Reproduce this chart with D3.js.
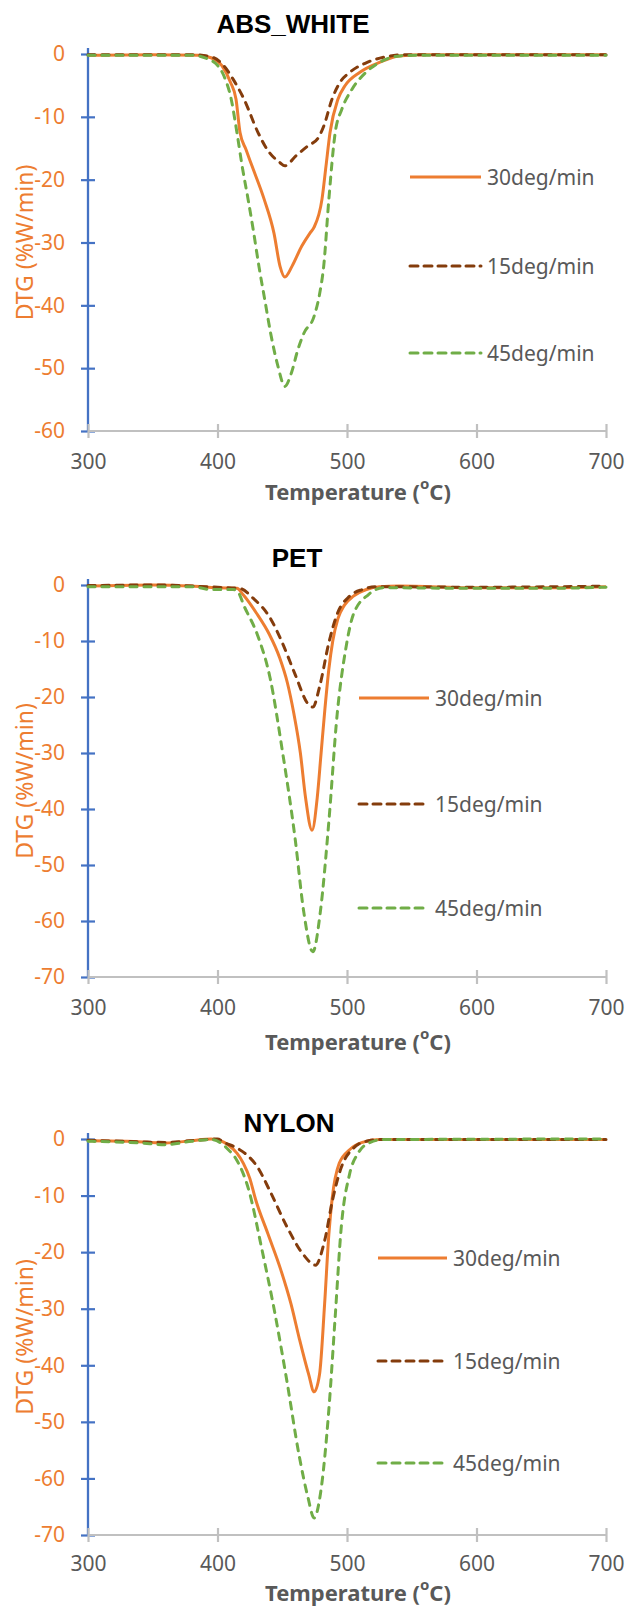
<!DOCTYPE html>
<html><head><meta charset="utf-8">
<script src="https://cdnjs.cloudflare.com/ajax/libs/d3/7.8.5/d3.min.js"></script>
<style>
html,body{margin:0;padding:0;background:#fff;}
svg{display:block;}
</style></head>
<body>
<svg id="c" width="627" height="1609"></svg>
<script>
// ---------- data ----------
const titles = ["ABS_WHITE", "PET", "NYLON"];
const seriesNames = ["30deg/min", "15deg/min", "45deg/min"];
const xTicks = [300, 400, 500, 600, 700];
const yTicksABS = [0, -10, -20, -30, -40, -50, -60];
const yTicksPET = [0, -10, -20, -30, -40, -50, -60, -70];
const yTicksNYLON = [0, -10, -20, -30, -40, -50, -60, -70];

// ABS_WHITE  [temperature °C, DTG %W/min]
const abs30 = [[300,-0.2],[350,-0.1],[385,-0.2],[395,-0.6],[403.5,-1.9],[410,-4.5],[414.3,-7.2],[417.4,-12.5],[422,-15.2],[426.6,-17.8],[436,-23.1],[443.6,-28.5],[448.3,-33.8],[452,-35.5],[457.5,-33.8],[465,-30.6],[471.4,-28.5],[474.5,-27.6],[480.7,-23.1],[483.8,-17.8],[486.9,-12.5],[493,-7.2],[498.3,-5.1],[510,-2.9],[525.5,-1.3],[540,-0.3],[560,-0.1],[700,-0.1]];
const abs15 = [[300,-0.1],[380,-0.1],[395.7,-0.5],[405,-1.9],[412,-4],[420.5,-7.2],[431.3,-12.5],[438.4,-15.2],[448.3,-17.3],[452,-17.8],[460.6,-16.2],[470,-14.6],[477.6,-13.4],[482.2,-11.4],[488.4,-7.2],[494.6,-4.5],[502.3,-2.9],[516,-1.3],[528.6,-0.5],[545,-0.1],[700,-0.1]];
const abs45 = [[300,-0.2],[380,-0.2],[392.7,-0.8],[400,-1.8],[405,-3.5],[410.6,-7.2],[415,-12.5],[419,-17.8],[423.6,-23.1],[428,-28.5],[432,-33.8],[436.5,-39.1],[441,-44.4],[446.7,-49.7],[452,-52.9],[457,-50.8],[462,-47.1],[466.8,-44.4],[474.5,-41.8],[479,-38],[482,-33.8],[486,-23.1],[490.9,-12.5],[496,-8.8],[503.9,-5.6],[514.7,-2.9],[525.5,-1.3],[541,-0.3],[560,-0.2],[700,-0.2]];

// PET
const pet30 = [[300,-0.2],[350,0],[380,-0.2],[400,-0.5],[415,-0.6],[420,-1.8],[430,-5],[440,-8.8],[448,-13],[454,-17.5],[459,-23],[464,-30],[468,-38],[473,-43.8],[477,-38],[480,-30],[483,-22],[486,-15],[489,-10],[493,-6],[498,-3.6],[505,-2],[515,-0.8],[525,-0.3],[540,-0.2],[600,-0.5],[650,-0.5],[700,-0.3]];
const pet15 = [[300,-0.1],[350,0],[400,-0.4],[417,-0.6],[427.7,-2.4],[440.7,-5.9],[450,-10.3],[460,-16],[469.8,-21.2],[473.6,-21.8],[479,-18],[486,-10.3],[492.4,-5.2],[502,-2],[512,-0.8],[521.5,-0.3],[600,-0.4],[700,-0.2]];
const pet45 = [[300,-0.3],[380,-0.3],[395,-0.8],[412,-0.8],[415,-1],[421,-4],[431,-9],[440.7,-16.7],[450,-29.5],[460,-45.4],[466.5,-58.2],[473.6,-65.5],[479.5,-58.2],[486,-42.2],[492.4,-23.1],[498.9,-11.6],[505,-5.2],[516.6,-1.7],[528,-0.5],[600,-0.6],[650,-0.6],[700,-0.4]];

// NYLON
const nylon30 = [[300,-0.3],[330,-0.4],[360,-0.7],[380,-0.3],[395,0],[402,-0.3],[408,-1],[415,-2.5],[420,-4.3],[425,-7],[429.3,-10.6],[439,-16.8],[448.7,-23],[456.8,-29.2],[463.3,-35.4],[470.4,-41.6],[474.6,-44.7],[478.8,-41.6],[482.7,-29.2],[486,-16.8],[488.5,-10.6],[494,-4.3],[502,-1.9],[511.8,-0.6],[525,-0.1],[700,-0.1]];
const nylon15 = [[300,-0.2],[340,-0.5],[360,-0.6],[385,-0.2],[400,0],[405,-0.6],[415,-1.6],[421,-2.5],[431,-5],[440.7,-9.3],[453.6,-15.5],[466.5,-20.5],[475.6,-22.3],[482.7,-18],[489,-10.6],[495.6,-5],[505,-1.6],[515,-0.4],[525,-0.1],[700,-0.1]];
const nylon45 = [[300,-0.4],[340,-0.7],[360,-1],[380,-0.4],[395,-0.1],[401.8,-0.6],[408,-1.8],[414.8,-3.7],[424.5,-9.3],[434,-19.2],[444,-30.4],[453.6,-42.8],[463,-55.9],[469.8,-63.3],[474.6,-67],[479.5,-62.7],[486,-47.8],[490.8,-31.7],[495.6,-15.5],[502,-6.2],[508.6,-2.5],[518,-0.6],[528,-0.1],[700,0]];

// ---------- styling / layout ----------
const colors = ["#ED7D31", "#843C0C", "#70AD47"];
const dashes = [null, "7,7", "7,7"];

const panels = [
  {title: titles[0], series: [abs30, abs15, abs45], yTicks: yTicksABS, yMin: -60,
   top: 54, bottom: 431, titleX: 293, titleY: 24, xLabY: 491, xPad: 16,
   legX: 410, legW: 71, legY: [177, 266, 353]},
  {title: titles[1], series: [pet30, pet15, pet45], yTicks: yTicksPET, yMin: -70,
   top: 585, bottom: 977, titleX: 297, titleY: 558, xLabY: 1041, xPad: 16,
   legX: 359, legW: 70, legY: [698, 804, 908]},
  {title: titles[2], series: [nylon30, nylon15, nylon45], yTicks: yTicksNYLON, yMin: -70,
   top: 1139, bottom: 1535, titleX: 289, titleY: 1123, xLabY: 1592, xPad: 14,
   legX: 378, legW: 69, legY: [1258, 1361, 1463]}
];

const svg = d3.select("#c");
const left = 88, right = 606;
const x = d3.scaleLinear().domain([300, 700]).range([left, right]);
const tickFont = "'Noto Sans', 'Open Sans', sans-serif";
const fmt = d => String(d);   // plain hyphen-minus as in the reference

panels.forEach(p => {
  const y = d3.scaleLinear().domain([p.yMin, 0]).range([p.bottom, p.top]);
  const g = svg.append("g");

  // title
  g.append("text").attr("x", p.titleX).attr("y", p.titleY)
    .attr("text-anchor", "middle").attr("dominant-baseline", "central")
    .attr("font-family", "'Liberation Sans', Arial, sans-serif")
    .attr("font-weight", "bold").attr("font-size", 26).attr("fill", "#000")
    .text(p.title);

  // y axis
  const yAxis = d3.axisLeft(y).tickValues(p.yTicks).tickSize(7).tickPadding(16)
    .tickFormat(fmt);
  const ya = g.append("g").attr("transform", `translate(${left},0)`).call(yAxis);
  ya.select(".domain").remove();
  ya.selectAll(".tick line").attr("x1", -7).attr("x2", 7)
    .attr("stroke", "#4472C4").attr("stroke-width", 2.2);
  ya.selectAll(".tick text").attr("fill", "#ED7D31")
    .attr("font-family", tickFont).attr("font-size", 21);
  ya.append("line").attr("x1", 0).attr("x2", 0)
    .attr("y1", y(0) - 6).attr("y2", y(p.yMin))
    .attr("stroke", "#4472C4").attr("stroke-width", 2.3);

  // x axis
  const xAxis = d3.axisBottom(x).tickValues(xTicks).tickSize(7).tickPadding(p.xPad)
    .tickFormat(fmt);
  const xa = g.append("g").attr("transform", `translate(0,${p.bottom})`).call(xAxis);
  xa.select(".domain").remove();
  xa.insert("line", ":first-child").attr("x1", left).attr("x2", right)
    .attr("y1", 0).attr("y2", 0).attr("stroke", "#C0C0C0").attr("stroke-width", 2.2);
  xa.selectAll(".tick line").attr("y1", -7).attr("y2", 7)
    .attr("stroke", "#C0C0C0").attr("stroke-width", 2.2);
  xa.selectAll(".tick text").attr("fill", "#595959")
    .attr("font-family", tickFont).attr("font-size", 21);

  // y axis title
  g.append("text")
    .attr("transform", `translate(24,${(p.top + p.bottom) / 2}) rotate(-90)`)
    .attr("text-anchor", "middle").attr("dominant-baseline", "central")
    .attr("font-family", tickFont).attr("font-size", 23).attr("fill", "#ED7D31")
    .text("DTG (%W/min)");

  // x axis title
  const xt = g.append("text").attr("x", 358).attr("y", p.xLabY)
    .attr("text-anchor", "middle").attr("dominant-baseline", "central")
    .attr("font-family", tickFont).attr("font-weight", "bold")
    .attr("font-size", 22).attr("fill", "#595959");
  xt.append("tspan").text("Temperature (");
  xt.append("tspan").attr("font-size", 15).attr("dy", -8).text("o");
  xt.append("tspan").attr("dy", 8).text("C)");

  // lines
  const line = d3.line().x(d => x(d[0])).y(d => y(d[1])).curve(d3.curveMonotoneX);
  p.series.forEach((s, i) => {
    g.append("path").datum(s).attr("d", line)
      .attr("fill", "none").attr("stroke", colors[i]).attr("stroke-width", 3)
      .attr("stroke-dasharray", dashes[i]).attr("stroke-linecap", dashes[i] ? "round" : "butt")
      .attr("stroke-linejoin", "round");
  });

  // legend
  seriesNames.forEach((n, i) => {
    g.append("line").attr("x1", p.legX).attr("x2", p.legX + p.legW)
      .attr("y1", p.legY[i]).attr("y2", p.legY[i])
      .attr("stroke", colors[i]).attr("stroke-width", 3)
      .attr("stroke-dasharray", dashes[i] ? "8,6" : null)
      .attr("stroke-linecap", dashes[i] ? "round" : "butt");
    g.append("text").attr("x", p.legX + p.legW + 6).attr("y", p.legY[i])
      .attr("dominant-baseline", "central")
      .attr("font-family", tickFont).attr("font-size", 21).attr("fill", "#595959")
      .text(n);
  });
});
</script>
</body></html>
